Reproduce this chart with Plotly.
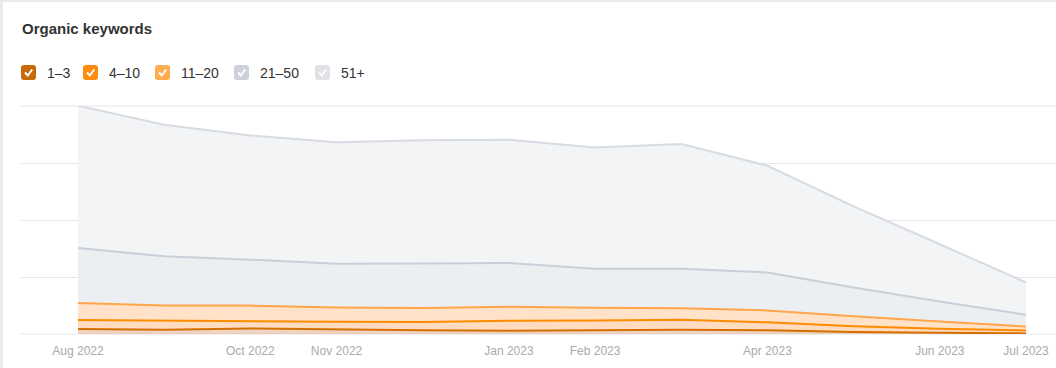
import plotly.graph_objects as go

# ---- data ----
months = ["Aug 2022", "Sep 2022", "Oct 2022", "Nov 2022", "Dec 2022", "Jan 2023",
          "Feb 2023", "Mar 2023", "Apr 2023", "May 2023", "Jun 2023", "Jul 2023"]
tick_labels = ["Aug 2022", "Oct 2022", "Nov 2022", "Jan 2023", "Feb 2023",
               "Apr 2023", "Jun 2023", "Jul 2023"]
series_names = ["1–3", "4–10", "11–20", "21–50", "51+"]
pos_1_3 = [44, 38, 49, 40, 32, 29, 35, 38, 32, 18, 11, 5]
pos_4_10 = [79, 79, 68, 68, 74, 88, 84, 88, 70, 49, 35, 26]
pos_11_20 = [149, 132, 132, 125, 123, 123, 111, 99, 105, 88, 64, 35]
pos_21_50 = [482, 432, 403, 383, 389, 383, 342, 348, 333, 252, 175, 103]
pos_51_plus = [1248, 1155, 1090, 1067, 1081, 1081, 1064, 1094, 936, 713, 502, 283]

series_values = [pos_1_3, pos_4_10, pos_11_20, pos_21_50, pos_51_plus]
line_colors = ["#d46f00", "#ff8c00", "#ffa54a", "#c9cfd9", "#d7dbe2"]
fill_colors = ["rgba(222,160,120,0.45)", "#ffdcbf", "#ffe2c8", "#eceff2", "#f3f4f6"]
box_colors = ["#c96a0a", "#ff8a10", "#ffab4e", "#cdd2da", "#dfe2e7"]

x_idx = list(range(len(months)))
tick_idx = [months.index(t) for t in tick_labels]

fig = go.Figure()
for name, vals, lc, fc in zip(series_names, series_values, line_colors, fill_colors):
    fig.add_trace(go.Scatter(
        x=x_idx, y=vals, name=name, mode="lines",
        stackgroup="one", line=dict(color=lc, width=2),
        fillcolor=fc, hoverinfo="skip", showlegend=False,
    ))

W, H = 1056, 368
ml, mr, mt, mb = 21, 0, 106, 34
pw, ph = W - ml - mr, H - mt - mb

def px(x):
    return (x - ml) / pw

def py(y):
    return (H - mb - y) / ph

shapes = []
annotations = []

# card borders
shapes.append(dict(type="rect", xref="paper", yref="paper", x0=px(0), x1=px(3),
                   y0=py(H), y1=py(0), fillcolor="#e9ebee", line=dict(width=0), layer="below"))
shapes.append(dict(type="rect", xref="paper", yref="paper", x0=px(0), x1=px(W),
                   y0=py(2), y1=py(0), fillcolor="#e9ebee", line=dict(width=0), layer="below"))

# top and bottom grid lines (at the axis edges)
for gy in (106, 334):
    shapes.append(dict(type="line", xref="paper", yref="paper", x0=0, x1=1,
                       y0=py(gy), y1=py(gy), line=dict(color="#e6e6e6", width=1),
                       layer="below"))

# title
annotations.append(dict(text="<b>Organic keywords</b>", xref="paper", yref="paper",
                        x=px(20), y=py(29), xanchor="left", yanchor="middle", showarrow=False,
                        font=dict(family="Liberation Sans, Arial", size=15, color="#333333")))


def rounded_rect(x0, y0, x1, y1, r):
    rx = r / pw
    ry = r / ph
    X0, X1 = px(x0), px(x1)
    Yt, Yb = py(y0), py(y1)
    return (f"M {X0 + rx},{Yt} L {X1 - rx},{Yt} Q {X1},{Yt} {X1},{Yt - ry} "
            f"L {X1},{Yb + ry} Q {X1},{Yb} {X1 - rx},{Yb} L {X0 + rx},{Yb} "
            f"Q {X0},{Yb} {X0},{Yb + ry} L {X0},{Yt - ry} Q {X0},{Yt} {X0 + rx},{Yt} Z")


# custom legend
box_x = [21, 83, 155, 234, 315]
for bx, name, bc in zip(box_x, series_names, box_colors):
    shapes.append(dict(type="path", xref="paper", yref="paper",
                       path=rounded_rect(bx, 65, bx + 15, 80, 3),
                       fillcolor=bc, line=dict(width=0)))
    check = (f"M {px(bx + 4)},{py(72.5)} L {px(bx + 6.8)},{py(75.5)} "
             f"L {px(bx + 11.2)},{py(69.5)}")
    shapes.append(dict(type="path", xref="paper", yref="paper", path=check,
                       line=dict(color="white", width=2)))
    annotations.append(dict(text=name, xref="paper", yref="paper",
                            x=px(bx + 24), y=py(72.5), xanchor="left", yanchor="middle",
                            showarrow=False,
                            font=dict(family="Liberation Sans, Arial", size=14, color="#333333")))

x0_px, step_px = 78, 948 / 11
fig.update_layout(
    width=W, height=H,
    margin=dict(l=ml, r=mr, t=mt, b=mb),
    paper_bgcolor="white", plot_bgcolor="white",
    shapes=shapes, annotations=annotations,
    xaxis=dict(
        range=[(ml - x0_px) / step_px, (W - mr - x0_px) / step_px],
        tickmode="array", tickvals=tick_idx, ticktext=tick_labels,
        showgrid=False, zeroline=False, showline=False, ticks="",
        ticklabelstandoff=8,
        tickfont=dict(family="Liberation Sans, Arial", size=12, color="#aaaaaa"),
        fixedrange=True,
    ),
    yaxis=dict(
        range=[0, 2000], tickvals=[500, 1000, 1500], showticklabels=False,
        showgrid=True, gridcolor="#e6e6e6", gridwidth=1, zeroline=False, showline=False,
        fixedrange=True,
    ),
    showlegend=False,
)

fig.write_html("out.html", config={"displayModeBar": False},
               post_script="document.body.style.margin='0';")
